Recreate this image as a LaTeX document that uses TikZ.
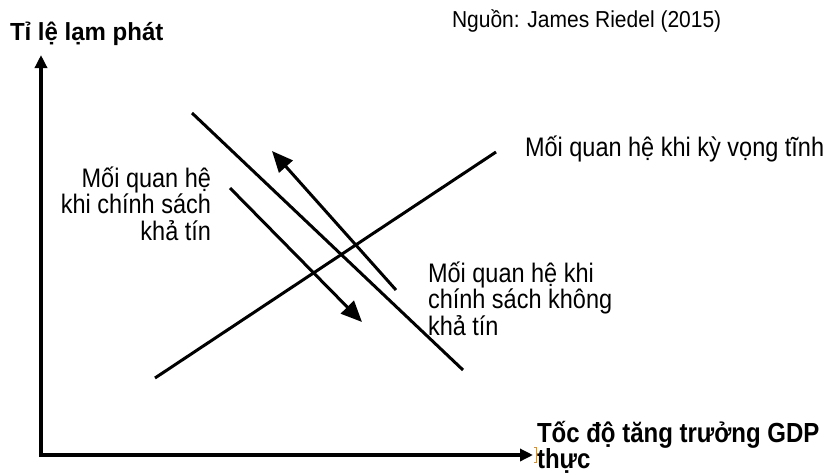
\documentclass[tikz,border=0pt]{standalone}
\usepackage{graphicx}
\usepackage{fontspec}
\setmainfont{Liberation Sans}
\usetikzlibrary{arrows.meta}
\newcommand{\vst}[2][1.14]{\scalebox{1}[#1]{#2}}
\tikzset{
  axisline/.style={line width=3.6pt,-{Triangle[length=13pt,width=12pt]}},
  curveline/.style={line width=3pt},
  bigarrow/.style={line width=3pt,-{Triangle[length=21pt,width=18pt]}},
  lbl/.style={inner sep=0pt,outer sep=0pt,font=\fontsize{23.5}{26.5}\selectfont},
  blbl/.style={inner sep=0pt,outer sep=0pt,font=\fontsize{24}{26.5}\selectfont\bfseries},
}
\begin{document}
\begin{tikzpicture}[x=1pt,y=-1pt]
\useasboundingbox[fill=white] (0,0) rectangle (834,474);
% coordinates
\coordinate (O) at (41,457);
\coordinate (ytop) at (41,55);
\coordinate (xstart) at (39,455);
\coordinate (xend) at (533,455);
\coordinate (s1) at (155,378);
\coordinate (s2) at (496,152);
\coordinate (m1) at (192,113);
\coordinate (m2) at (463,370);
\coordinate (d1) at (230,188);
\coordinate (d2) at (362,322);
\coordinate (u1) at (396,290);
\coordinate (u2) at (272,151);
% axes
\draw[axisline] (O) -- (ytop);
\draw[axisline] (xstart) -- (xend);
% lines
\draw[curveline] (s1) -- (s2);
\draw[curveline] (m1) -- (m2);
\draw[bigarrow] (d1) -- (d2);
\draw[bigarrow] (u1) -- (u2);
% small bracket artifact
\draw[line width=0.8pt,color={rgb,255:red,205;green,145;blue,70}] (534,447) -- (536.5,447) -- (536.5,462) -- (534,462);
% texts
\node[lbl,anchor=base west,font=\fontsize{21}{24}\selectfont] (src) at (452,27) {\vst[1.1]{Nguồn: James Riedel (2015)}};
\node[blbl,anchor=base west] (ylab) at (10,40) {\vst[1.03]{Tỉ lệ lạm phát}};
\node[blbl,anchor=base west] (xlab1) at (537,442) {\vst[1.15]{Tốc độ tăng trưởng GDP}};
\node[blbl,anchor=base west] (xlab2) at (537,468.5) {\vst[1.15]{thực}};
\node[lbl,anchor=base west] (static) at (525,156.5) {\vst{Mối quan hệ khi kỳ vọng tĩnh}};
\node[lbl,anchor=base east] (cred1) at (211,187) {\vst{Mối quan hệ}};
\node[lbl,anchor=base east] (cred2) at (211,213.5) {\vst{khi chính sách}};
\node[lbl,anchor=base east] (cred3) at (211,240) {\vst{khả tín}};
\node[lbl,anchor=base west] (nc1) at (428,282) {\vst{Mối quan hệ khi}};
\node[lbl,anchor=base west] (nc2) at (428,308.5) {\vst{chính sách không}};
\node[lbl,anchor=base west] (nc3) at (428,335) {\vst{khả tín}};
\end{tikzpicture}
\end{document}
